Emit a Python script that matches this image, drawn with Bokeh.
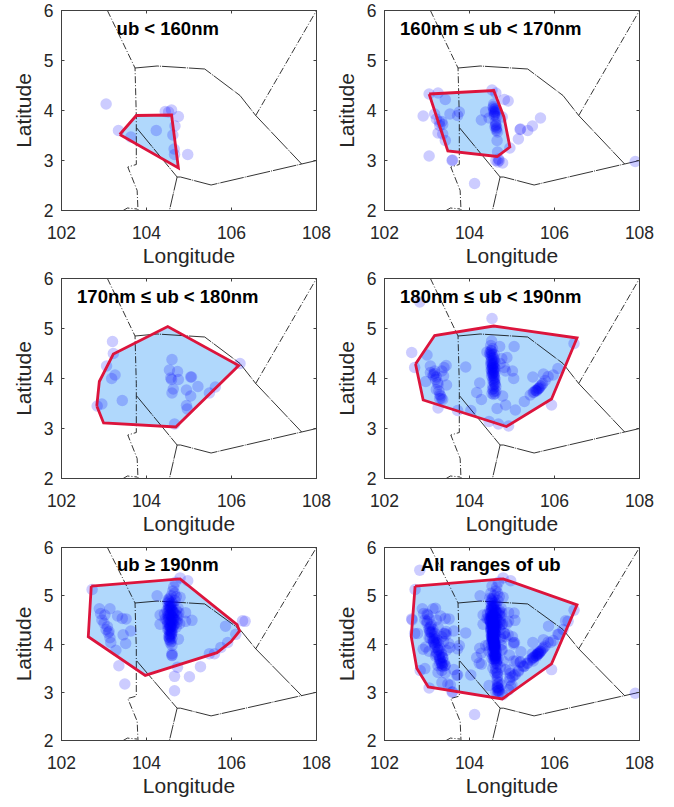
from bokeh.plotting import figure
from bokeh.layouts import gridplot
from bokeh.models import LinearAxis, FixedTicker, Range1d
from bokeh.core.properties import value
from bokeh.embed import file_html
from bokeh.resources import INLINE

# Region boundaries (longitude, latitude)
border_a_x = [103.08, 103.73, 103.76, 103.76, 103.56, 103.78, 103.80]
border_a_y = [6.00, 4.85, 3.90, 2.92, 2.87, 2.40, 2.00]
border_a2_x = [103.45, 103.55, 103.78]
border_a2_y = [2.00, 2.05, 2.03]
border_b_x = [103.73, 104.25, 105.37, 106.20, 106.57, 107.65]
border_b_y = [4.85, 4.89, 4.83, 4.30, 3.90, 2.93]
border_c_x = [106.57, 108.00]
border_c_y = [3.90, 6.00]
border_d_x = [103.77, 104.72, 104.80, 105.52, 107.65, 108.00]
border_d_y = [3.65, 2.67, 2.67, 2.51, 2.93, 3.00]
border_e_x = [104.72, 104.54]
border_e_y = [2.67, 2.00]

# Panel 1
p1_x = [103.05,103.34,103.63,104.23,104.44,104.59,104.75,104.67,104.62,104.65,104.66,104.97,104.52]
p1_y = [4.13,3.60,3.47,3.60,3.98,4.01,3.88,3.69,3.51,3.23,3.12,3.12,3.97]
h1_x = [103.37,103.76,104.59,104.75,103.37]
h1_y = [3.52,3.90,3.91,2.85,3.52]

# Panel 2
p2_x = [103.05,103.26,103.43,102.91,103.18,103.22,103.29,103.37,103.26,103.37,103.43,103.05,103.59,103.60,
        103.54,103.76,103.72,104.12,104.28,104.38,104.46,104.53,104.62,104.82,104.91,104.57,104.56,104.60,
        104.58,104.62,104.77,104.62,104.63,104.61,104.66,104.65,104.66,104.62,104.70,104.78,104.95,105.20,
        105.19,105.15,105.37,105.48,105.67,107.90,103.30,103.35,
        104.56,104.58,104.60,104.57,104.59,104.61,104.63,104.62,104.64,104.60,104.63,104.68,104.67]
p2_y = [4.33,4.35,4.22,3.89,3.93,3.83,3.77,3.72,3.55,3.53,3.40,3.09,3.00,3.01,
        3.93,3.97,3.90,2.54,3.81,3.97,3.85,4.41,4.35,4.22,4.19,4.13,4.05,3.97,
        3.90,4.00,3.87,3.70,3.63,3.77,3.57,3.40,3.17,3.00,3.00,2.95,3.25,3.63,
        3.62,3.43,3.60,3.69,3.85,2.98,3.70,3.78,
        4.08,4.02,3.95,3.98,3.92,4.04,3.88,3.72,3.66,3.68,3.60,3.03,2.97]
h2_x = [103.05,104.57,104.81,104.95,104.65,103.49,103.05]
h2_y = [4.33,4.40,3.87,3.27,3.08,3.19,4.33]

# Panel 3
p3_x = [103.20,103.22,103.06,103.26,103.18,102.84,102.95,103.43,104.60,104.54,104.73,104.57,104.59,104.75,
        104.63,104.60,104.94,105.04,105.06,105.21,105.04,104.94,104.96,104.66,105.48,105.62,106.20]
p3_y = [4.74,4.50,4.25,4.07,4.00,3.45,3.49,3.56,4.38,4.17,4.14,4.01,3.98,3.98,
        3.79,3.71,3.77,4.03,4.03,3.84,3.65,3.46,3.39,3.09,3.71,3.83,4.30]
h3_x = [102.83,102.89,103.22,104.50,106.17,104.69,102.99,102.83]
h3_y = [3.45,3.94,4.49,5.04,4.26,3.03,3.11,3.45]

# Panel 4
p4_x = [102.83,104.53,102.64,102.71,103.00,103.08,102.97,103.18,103.14,103.22,103.26,103.22,103.30,103.37,103.26,
        103.45,103.39,103.46,103.91,103.72,104.03,104.24,104.17,104.28,104.46,104.41,104.52,104.50,104.54,104.48,
        104.50,104.52,104.55,104.57,104.50,104.53,104.56,104.58,104.55,104.52,104.56,104.58,104.60,104.55,104.57,
        104.52,104.54,104.58,104.60,104.55,104.52,104.56,104.58,104.60,104.62,104.53,104.57,
        105.05,104.71,104.76,104.88,104.85,105.01,105.04,104.78,104.65,104.85,105.08,105.29,104.92,104.68,105.93,
        106.46,106.08,105.97,105.74,105.49,105.43,105.50,105.55,105.60,105.63,105.67,105.72,105.78,105.85,105.58,
        104.72,104.82,103.40,103.34,103.35,103.08,103.18,103.30,
        104.50,104.52,104.54,104.56,104.58,104.60,104.50,104.53,104.56,104.59,104.51,104.54,104.57,104.60,104.53,
        104.56,104.59,104.55,104.58,104.60,104.62,104.54,104.57,104.60,104.48,104.52,
        105.52,105.57,105.62,105.65,105.70,103.15,103.20,103.25,103.28,103.32]
p4_y = [5.53,5.20,4.52,4.22,4.47,4.25,3.94,4.10,4.08,4.03,3.88,3.78,3.68,3.58,3.41,
        4.26,4.05,3.87,4.23,3.36,3.36,3.91,3.72,3.58,3.14,4.53,4.75,4.66,4.60,4.52,
        4.45,4.40,4.35,4.30,4.27,4.22,4.18,4.14,4.10,4.05,4.00,3.95,3.90,3.85,3.80,
        4.35,4.28,4.48,4.20,4.25,4.15,4.12,4.06,3.98,3.75,3.70,3.68,
        4.64,4.64,4.40,4.42,4.15,4.15,4.00,3.65,3.40,3.47,3.37,3.54,3.05,3.09,3.47,
        4.70,4.20,4.07,4.09,4.03,3.67,3.72,3.76,3.78,3.80,3.85,3.90,3.96,4.04,3.75,
        4.30,4.22,4.22,3.60,4.15,4.12,4.15,3.60,
        4.56,4.50,4.47,4.42,4.38,4.33,4.33,4.30,4.26,4.22,4.18,4.20,4.16,4.11,4.10,
        4.06,4.02,3.96,3.92,3.88,3.84,3.78,3.74,3.70,4.48,4.55,
        3.73,3.76,3.80,3.82,3.87,4.05,3.98,3.92,3.75,3.65]
h4_x = [102.73,103.18,104.57,106.53,105.93,104.87,102.91,102.73]
h4_y = [4.29,4.86,5.05,4.81,3.59,3.04,3.57,4.29]

# Panel 5
p5_x = [102.72,104.79,104.97,104.68,102.89,102.92,102.95,103.00,103.05,103.10,103.14,103.16,103.28,103.14,103.32,103.43,103.52,
        103.45,103.63,103.51,103.35,103.49,104.25,104.79,105.07,104.92,104.92,104.32,104.32,105.86,106.26,106.32,106.10,105.91,105.75,
        105.60,105.48,104.75,104.54,104.60,104.60,104.73,105.27,104.66,105.01,104.66,
        104.62,104.58,104.55,104.52,104.50,104.53,104.56,104.60,104.63,104.67,104.70,104.48,104.52,104.55,104.58,
        104.62,104.66,104.70,104.74,104.50,104.53,104.57,104.60,104.63,104.67,104.72,104.50,104.54,104.57,104.60,
        104.64,104.50,104.53,104.57,104.60,104.55,104.52,104.58,104.62,104.65,104.48,104.55,104.58,104.60,
        104.51,104.54,104.57,104.60,104.52,104.55,104.58,104.61,104.64,104.50,104.53,104.56,104.59,104.62,104.65,
        104.52,104.55,104.58,104.61,104.50,104.54,104.57,104.60,104.53,104.56,104.59,104.54,104.57,104.60,104.56,
        104.58,104.54,104.60,104.56,104.59,103.02,103.08,103.12,
        104.74,104.76,104.72,104.78,104.70,104.42,104.44,104.66,104.70,104.64]
p5_y = [5.13,5.37,5.31,5.28,4.73,4.63,4.50,4.43,4.30,4.23,4.13,4.03,3.87,4.73,4.58,4.53,4.52,
        4.19,4.27,4.01,3.55,3.17,5.00,4.97,4.49,4.65,4.47,4.60,4.41,4.37,4.48,4.47,4.20,4.03,3.93,
        3.80,3.80,4.10,4.13,3.97,3.77,3.52,3.53,3.33,3.32,3.03,
        5.10,5.00,4.95,4.90,4.85,4.80,4.78,4.86,4.82,4.90,4.70,4.70,4.72,4.70,4.75,
        4.68,4.65,4.60,4.58,4.58,4.55,4.60,4.55,4.52,4.50,4.45,4.45,4.42,4.48,4.40,
        4.38,4.30,4.32,4.35,4.25,4.20,4.15,4.28,4.30,4.40,4.50,4.08,4.05,3.80,
        4.92,4.88,4.84,4.80,4.76,4.74,4.72,4.68,4.64,4.64,4.60,4.62,4.58,4.56,4.53,
        4.52,4.50,4.47,4.45,4.40,4.38,4.36,4.33,4.28,4.26,4.22,4.18,4.16,4.12,4.35,
        4.42,4.10,3.76,4.02,4.20,4.60,4.36,4.26,
        4.75,4.65,4.50,4.42,4.35,4.62,4.52,5.05,4.98,5.18]
h5_x = [102.70,104.79,106.13,106.19,105.99,105.66,103.97,102.63,102.70]
h5_y = [5.20,5.35,4.40,4.27,4.05,3.82,3.35,4.15,5.20]

# Panel 6: the other five together, plus marks seen only in that panel
extra_x = [102.65,102.78,103.05,103.20,103.35,103.55,103.35,103.70,104.55,104.60,104.65,104.70,104.65,104.70,
           104.75,104.95,105.05,105.15,105.25,105.35,105.50,105.10,105.00,104.60,104.58,104.55,104.60,104.62,
           104.62,104.48,104.50,103.10,103.14,103.18,103.22,103.26,103.30,103.33,103.37,103.40,103.42,103.05,103.00]
extra_y = [4.50,4.22,3.85,3.75,3.20,3.15,3.45,3.35,3.50,3.40,3.30,3.20,3.10,3.05,
           3.15,3.30,3.35,3.45,3.55,3.60,3.65,3.65,3.15,3.75,3.60,3.85,3.90,3.45,
           4.20,4.95,5.05,4.40,4.30,4.22,4.12,4.02,3.92,3.82,3.72,3.62,3.55,4.52,4.62]
p6_x = p1_x + p2_x + p3_x + p4_x + p5_x + extra_x
p6_y = p1_y + p2_y + p3_y + p4_y + p5_y + extra_y
h6_x = [102.72,104.79,106.53,105.93,104.77,103.03,102.76,102.63,102.72]
h6_y = [5.20,5.35,4.81,3.59,2.86,3.11,3.50,4.15,5.20]

titles = ["ub < 160nm", "160nm ≤ ub < 170nm", "170nm ≤ ub < 180nm",
          "180nm ≤ ub < 190nm", "ub ≥ 190nm", "All ranges of ub"]
title_x = [104.5]
title_y = [5.65]
x_ticks = [102, 104, 106, 108]
y_ticks = [2, 3, 4, 5, 6]

points = [(p1_x, p1_y), (p2_x, p2_y), (p3_x, p3_y), (p4_x, p4_y), (p5_x, p5_y), (p6_x, p6_y)]
hulls = [(h1_x, h1_y), (h2_x, h2_y), (h3_x, h3_y), (h4_x, h4_y), (h5_x, h5_y), (h6_x, h6_y)]

INK = "#404040"
TICK_FONT = "Liberation Sans"

def style_blank(ax, ticks):
    ax.major_label_overrides = {t: "" for t in ticks}
    ax.major_label_standoff = 0
    ax.major_tick_in = 3
    ax.major_tick_out = 0
    ax.minor_tick_in = 0
    ax.minor_tick_out = 0
    ax.axis_line_color = INK
    ax.major_tick_line_color = INK

def panel(i, top, frame_h, bottom):
    f = figure(width=323, height=top + frame_h + bottom, output_backend="svg", toolbar_location=None,
               x_range=Range1d(102, 108), y_range=Range1d(2, 6),
               min_border_left=50, min_border_right=15, min_border_top=top, min_border_bottom=bottom,
               x_axis_label="Longitude", y_axis_label="Latitude")
    f.grid.visible = False
    f.outline_line_color = INK
    f.outline_line_width = 1
    f.background_fill_color = "white"
    f.xaxis.ticker = FixedTicker(ticks=x_ticks)
    f.yaxis.ticker = FixedTicker(ticks=y_ticks)
    for ax in (f.xaxis[0], f.yaxis[0]):
        ax.major_tick_in = 3
        ax.major_tick_out = 0
        ax.minor_tick_in = 0
        ax.minor_tick_out = 0
        ax.axis_line_color = INK
        ax.major_tick_line_color = INK
        ax.major_label_text_font = TICK_FONT
        ax.major_label_text_font_size = "17.5px"
        ax.major_label_text_color = "#262626"
        ax.axis_label_text_font = TICK_FONT
        ax.axis_label_text_font_style = "normal"
        ax.axis_label_text_font_size = "21px"
        ax.axis_label_text_color = "#262626"
    f.xaxis[0].major_label_standoff = 15
    f.xaxis[0].axis_label_standoff = 2
    f.yaxis[0].major_label_standoff = 8
    f.yaxis[0].axis_label_standoff = 6
    f.yaxis[0].major_label_orientation = "horizontal"

    top_ax = LinearAxis(ticker=FixedTicker(ticks=x_ticks))
    right_ax = LinearAxis(ticker=FixedTicker(ticks=y_ticks))
    style_blank(top_ax, x_ticks)
    style_blank(right_ax, y_ticks)
    f.add_layout(top_ax, "above")
    f.add_layout(right_ax, "right")

    hx, hy = hulls[i]
    f.patch(hx, hy, fill_color="#b0d8fc", fill_alpha=1, line_color=None)
    f.line(border_a_x, border_a_y, line_color="black", line_width=0.8, line_dash="7 2 1 2")
    f.line(border_a2_x, border_a2_y, line_color="black", line_width=0.8, line_dash="7 2 1 2")
    f.line(border_b_x, border_b_y, line_color="black", line_width=0.8, line_dash="24 1 1 1")
    f.line(border_c_x, border_c_y, line_color="black", line_width=0.8, line_dash="7 2 1 2")
    f.line(border_d_x, border_d_y, line_color="black", line_width=0.8, line_dash="24 1 1 1")
    f.line(border_e_x, border_e_y, line_color="black", line_width=0.8, line_dash="14 1 1 1")
    px, py = points[i]
    f.scatter(px, py, size=11.5, marker="circle", fill_color="#0000ff", fill_alpha=0.2, line_color=None)
    f.line(hx, hy, line_color="#dc143c", line_width=2.8, line_join="miter")
    f.text(title_x, title_y, text=[titles[i]], text_font=value(TICK_FONT), text_font_style="bold",
           text_font_size="18.5px", text_color="black", text_align="center", text_baseline="middle")
    return f

tops = [8, 8, 8, 8, 10, 10]
frames = [200, 200, 201, 201, 200, 200]
bottoms = [60, 60, 58, 58, 52, 52]
figs = [panel(i, tops[i], frames[i], bottoms[i]) for i in range(6)]

grid = gridplot([figs[:2], figs[2:4], figs[4:]], toolbar_location=None, merge_tools=False)
grid.margin = (2, 0, 0, 8)

open("out.html", "w").write(file_html(grid, INLINE))
